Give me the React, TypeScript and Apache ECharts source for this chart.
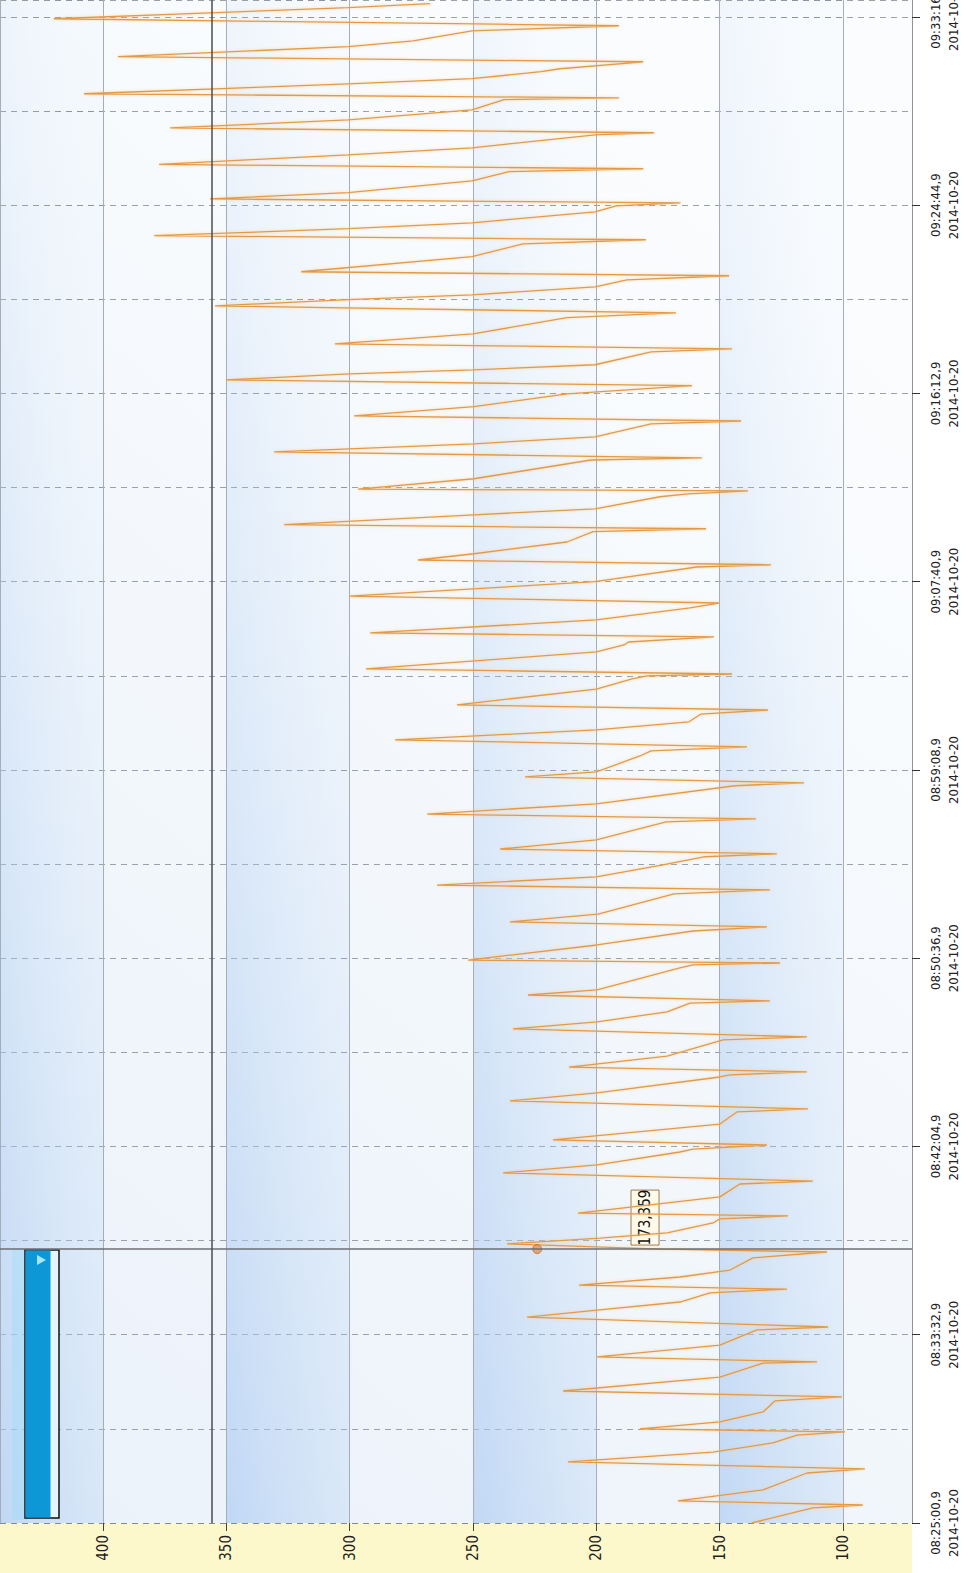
import React, { useEffect, useRef } from "react";
import * as echarts from "echarts";

// Trend recording of 2014-10-20, starting 08:25:00,9.
const DATE_LABEL = "2014-10-20";
const START_SECONDS = 8 * 3600 + 25 * 60; // clock at t = 0 (plus 0,9 s)
const TIME_SPAN = 4142; // seconds visible on the time axis
const TIME_LABEL_STEP = 512;
const TIME_GRID_STEP = 256;

// Value axis range (drawn inverted: high values on the left)
const VALUE_MIN = 72;
const VALUE_MAX = 441.8;
const THRESHOLD = 356;

// Cursor position and its readout
const CURSOR_TIME = 745;
const CURSOR_VALUE = 173.359;
const CURSOR_TEXT = "173,359";
const HOVER_VALUE = 224;

// Samples: [seconds since start, value]
const samples: [number, number][] = [
  [0, 137], [41, 112.2], [49, 92],
  [60, 166.9], [90, 132.4], [136, 114.6], [147, 91.1],
  [166, 211.5], [193, 152.7], [218, 128.4], [239, 118.6], [248, 99.2],
  [256, 182.3], [275, 149.9], [302, 132.4], [332, 127.6], [343, 100.4],
  [359, 213.5], [397, 149.9], [435, 132.4], [438, 110.5],
  [452, 199.7], [484, 149.9], [525, 134.9], [533, 106],
  [560, 228.1], [579, 199.7], [601, 166.1], [626, 153.9], [636, 122.7],
  [647, 207], [669, 166.1], [688, 145.8], [721, 136.5], [737, 106.5],
  [CURSOR_TIME, CURSOR_VALUE],
  [759, 236.2], [775, 198.5], [789, 171.3], [816, 152.7], [827, 149.9], [835, 122.3],
  [843, 207.4], [887, 149.9], [922, 141.8], [930, 112.2],
  [952, 237.8], [974, 199.7], [1009, 166.1], [1017, 160.8], [1028, 130.8],
  [1042, 217.6], [1085, 149.9], [1118, 143], [1126, 114.2],
  [1148, 235], [1170, 199.7], [1213, 149.9], [1219, 145.8], [1227, 114.6],
  [1240, 211.1], [1270, 171.3], [1314, 148.6], [1322, 114.6],
  [1344, 233.8], [1363, 199.7], [1390, 171.3], [1414, 162], [1420, 129.6],
  [1436, 227.7], [1450, 199.7], [1510, 166.1], [1518, 160.8], [1523, 125.5],
  [1531, 252], [1572, 199.7], [1610, 160.8], [1621, 130.8],
  [1635, 235], [1656, 199.3], [1711, 168.5], [1722, 129.6],
  [1735, 264.6], [1757, 200], [1790, 173], [1812, 155.9], [1820, 126.8],
  [1833, 239], [1858, 200], [1907, 171.7], [1915, 135.3],
  [1928, 268.6], [1956, 200], [2005, 143.8], [2013, 115.8],
  [2029, 228.9], [2043, 200], [2086, 182.3], [2100, 177.8], [2111, 138.9],
  [2130, 281.6], [2157, 200], [2179, 162.4], [2200, 157.6], [2211, 130.4],
  [2225, 256.5], [2268, 200], [2296, 185.5], [2304, 179.4], [2309, 145],
  [2323, 293.4], [2369, 200], [2388, 188.8], [2396, 187], [2410, 152.3],
  [2421, 291.7], [2456, 200], [2489, 162], [2502, 150.3],
  [2521, 300.2], [2560, 200.5], [2600, 159.2], [2606, 129.2],
  [2619, 272.3], [2636, 249.6], [2668, 211.9], [2696, 201.3], [2704, 155.5],
  [2715, 326.6], [2742, 249.6], [2758, 200.5], [2791, 174.2], [2799, 162.8], [2807, 138.5],
  [2812, 296.6], [2840, 249.6], [2891, 202.1], [2897, 157.2],
  [2913, 330.6], [2935, 249.6], [2954, 200.5], [2989, 177.8], [2997, 141.3],
  [3011, 298.2], [3036, 249.6], [3071, 211.9], [3093, 161.2],
  [3109, 350.1], [3125, 300.2], [3136, 250], [3150, 200.5], [3185, 177.8], [3193, 145],
  [3207, 306], [3234, 250], [3278, 211.9], [3291, 167.7],
  [3310, 354.6], [3327, 300.6], [3340, 250.4], [3362, 200.5], [3381, 187.6], [3392, 146.2],
  [3403, 319.7], [3444, 250.4], [3479, 229.7], [3490, 179.9],
  [3501, 379.3], [3520, 300.6], [3536, 250.4], [3566, 200.5], [3582, 192], [3590, 165.9],
  [3601, 356.6], [3618, 300.6], [3650, 250.4], [3675, 235.4], [3683, 181],
  [3695, 377.3], [3721, 300.6], [3740, 250.4], [3775, 200.5], [3781, 176.6],
  [3794, 372.8], [3816, 300.6], [3843, 250.4], [3871, 237.4], [3876, 190.8],
  [3887, 407.7], [3914, 300.6], [3928, 250.4], [3947, 222.4], [3955, 214.7], [3974, 181],
  [3988, 394], [4015, 300.6], [4031, 274.3], [4058, 250.4], [4072, 190.8],
  [4091, 420], [4107, 356.6], [4121, 300.6], [4132, 267.4],
];

const pad = (n: number) => String(n).padStart(2, "0");

const timeLabel = (v: number) => {
  const r = Math.round(v);
  if (r % TIME_LABEL_STEP !== 0) return "";
  const t = START_SECONDS + r;
  const hh = Math.floor(t / 3600);
  const mm = Math.floor((t % 3600) / 60);
  const ss = t % 60;
  return `${pad(hh)}:${pad(mm)}:${pad(ss)},9\n${DATE_LABEL}`;
};

const LABEL_FONT = "'DejaVu Sans Condensed', 'Liberation Sans Narrow', 'Liberation Sans', sans-serif";

const W = 971;
const H = 1573;
const GRID_W = 912;
const GRID_H = 1523;

export default function App() {
  const ref = useRef<HTMLDivElement>(null);

  useEffect(() => {
    if (!ref.current) return;
    const chart = echarts.init(ref.current, undefined, { renderer: "svg", width: W, height: H });

    const bandBlue = new echarts.graphic.LinearGradient(0, 1, 0.6, 0, [
      { offset: 0, color: "rgba(175,205,242,0.7)" },
      { offset: 1, color: "rgba(225,237,250,0.1)" },
    ]);

    const dashed = { color: "#838a95", width: 1, type: [6, 5] as number[] };

    chart.setOption({
      animation: false,
      backgroundColor: "#ffffff",
      grid: {
        left: 0,
        top: 0,
        width: GRID_W,
        height: GRID_H,
        containLabel: false,
        outerBoundsMode: "none",
        show: true,
        borderWidth: 0,
        backgroundColor: new echarts.graphic.LinearGradient(0, 1, 0.5, 0, [
          { offset: 0, color: "#e6eff9" },
          { offset: 1, color: "#fafcfe" },
        ]),
      },
      xAxis: {
        type: "value",
        inverse: true,
        min: VALUE_MIN,
        max: VALUE_MAX,
        splitNumber: 7,
        position: "bottom",
        axisLine: { show: false },
        axisTick: { show: true, length: 8, lineStyle: { color: "#444" } },
        axisLabel: {
          rotate: 90,
          margin: 12,
          fontSize: 15,
          color: "#1f1f1f",
          fontFamily: LABEL_FONT,
          showMinLabel: false,
          showMaxLabel: false,
          formatter: (v: number) => (Math.abs(v % 50) < 1e-6 ? String(v) : ""),
        },
        splitLine: { show: true, lineStyle: { color: "#a4adba", width: 1 } },
        splitArea: { show: true, areaStyle: { color: ["rgba(255,255,255,0.2)", bandBlue] } },
      },
      yAxis: [
        {
          type: "value",
          position: "right",
          min: 0,
          max: TIME_SPAN,
          interval: TIME_LABEL_STEP,
          axisLine: { show: true, lineStyle: { color: "#8d939c", width: 1 } },
          axisTick: { show: true, length: 8, lineStyle: { color: "#333" } },
          axisLabel: {
            rotate: 90,
            margin: 14,
            fontSize: 13,
            lineHeight: 18,
            color: "#222",
            fontFamily: LABEL_FONT,
            showMaxLabel: false,
            formatter: timeLabel,
          },
          splitLine: { show: false },
        },
        {
          type: "value",
          position: "right",
          min: 0,
          max: TIME_SPAN,
          interval: TIME_GRID_STEP,
          axisLine: { show: false },
          axisTick: { show: false },
          axisLabel: { show: false },
          splitLine: { show: true, lineStyle: dashed },
        },
      ],
      series: [
        {
          type: "line",
          name: "trend",
          xAxisIndex: 0,
          yAxisIndex: 0,
          data: samples.map(([t, v]) => [v, t]),
          showSymbol: false,
          symbol: "none",
          clip: true,
          lineStyle: {
            color: "#e29a4a",
            width: 1.3,
            shadowColor: "rgba(248,196,120,0.7)",
            shadowBlur: 3,
          },
          z: 3,
          markLine: {
            silent: true,
            symbol: "none",
            animation: false,
            label: { show: false },
            data: [
              { yAxis: CURSOR_TIME, lineStyle: { color: "#6c6f74", width: 1.5, type: "solid" } },
              { xAxis: THRESHOLD, lineStyle: { color: "#4a4d52", width: 1.5, type: "solid" } },
            ],
          },
        },
        {
          type: "scatter",
          name: "hover",
          xAxisIndex: 0,
          yAxisIndex: 0,
          data: [[HOVER_VALUE, CURSOR_TIME]],
          symbol: "circle",
          symbolSize: 9,
          itemStyle: { color: "rgba(226,128,52,0.8)", borderColor: "#c8691f", borderWidth: 1 },
          z: 4,
        },
      ],
    });

    const [px, py] = chart.convertToPixel({ xAxisIndex: 0, yAxisIndex: 0 }, [CURSOR_VALUE, CURSOR_TIME]) as number[];

    chart.setOption({
      graphic: [
        // label strip under the value axis
        {
          type: "rect",
          z: -10,
          silent: true,
          shape: { x: 0, y: GRID_H, width: GRID_W, height: H - GRID_H },
          style: { fill: "#fdf8cc" },
        },
        // scroll handle on the left
        {
          type: "group",
          silent: true,
          z: 5,
          children: [
            {
              type: "rect",
              shape: { x: 12, y: 1248, width: 16, height: 272 },
              style: { fill: "rgba(150,222,250,0.35)" },
            },
            {
              type: "rect",
              shape: { x: 25, y: 1250, width: 34, height: 268 },
              style: { fill: "#e3f5fd", stroke: "#111", lineWidth: 1.5 },
            },
            {
              type: "rect",
              shape: { x: 25.5, y: 1250.5, width: 25, height: 267 },
              style: { fill: "#0d97d6" },
            },
            {
              type: "polygon",
              shape: { points: [[37, 1255], [46, 1260], [37, 1265]] },
              style: { fill: "#a6e6fb" },
            },
          ],
        },
        // cursor readout
        {
          type: "group",
          x: px,
          y: py,
          rotation: Math.PI / 2,
          z: 6,
          silent: true,
          children: [
            {
              type: "rect",
              shape: { x: 4, y: -31, width: 55, height: 28 },
              style: { fill: "#fffbea", stroke: "#9c7a4a", lineWidth: 1 },
            },
            {
              type: "text",
              x: 31.5,
              y: -17,
              style: {
                text: CURSOR_TEXT,
                fill: "#111",
                fontSize: 15,
                fontFamily: LABEL_FONT,
                align: "center",
                verticalAlign: "middle",
              },
            },
          ],
        },
      ],
    });

    return () => chart.dispose();
  }, []);

  return (
    <div
      ref={ref}
      style={{ position: "absolute", left: 0, top: 0, width: W, height: H, background: "#fff" }}
    />
  );
}
